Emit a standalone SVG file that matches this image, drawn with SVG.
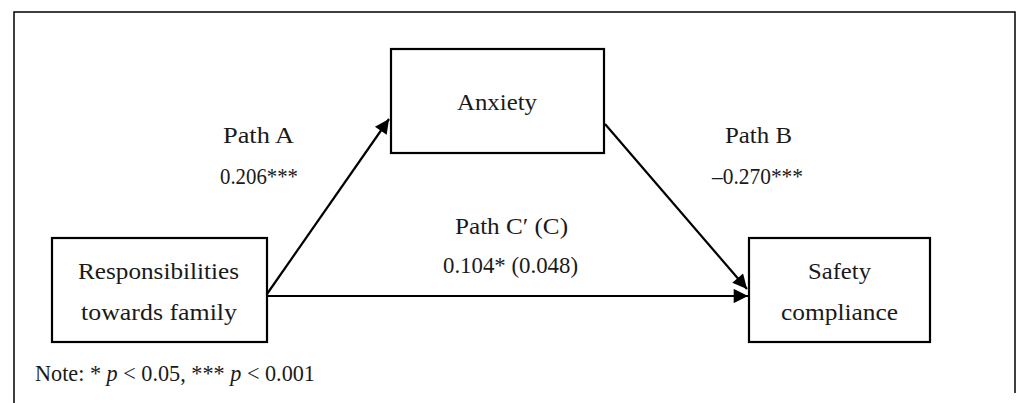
<svg xmlns="http://www.w3.org/2000/svg" width="1018" height="403" viewBox="0 0 1018 403">
<style>
.frame{fill:none;stroke:#000;stroke-width:1.5}
.box{fill:#fff;stroke:#000;stroke-width:2.2}
.t{font-family:"Liberation Serif","Times New Roman",serif;font-size:23px;fill:#1a1a1a;text-anchor:middle}
.edge{fill:none;stroke:#000;stroke-width:2.2}
</style>
<defs>
<marker id="ah" viewBox="0 0 10 10" refX="10" refY="5" markerWidth="7.5" markerHeight="6.5" orient="auto" markerUnits="strokeWidth">
<path d="M0,0 L10,5 L0,10 z" fill="#000"/>
</marker>
</defs>
<rect width="1018" height="403" fill="#fff"/>
<path class="frame" d="M14,403 L14,12 L1015,12 L1015,393"/>
<g id="connectors">
<line class="edge" x1="267" y1="294" x2="389" y2="119" marker-end="url(#ah)"/>
<line class="edge" x1="605" y1="124" x2="747" y2="289" marker-end="url(#ah)"/>
<line class="edge" x1="267" y1="296" x2="748" y2="296" marker-end="url(#ah)"/>
</g>
<g id="anxiety">
<rect class="box" x="391" y="49" width="213" height="104"/>
<text class="t" x="497" y="110" textLength="80" lengthAdjust="spacingAndGlyphs">Anxiety</text>
</g>
<g id="responsibilities">
<rect class="box" x="52" y="238" width="215" height="104"/>
<text class="t" x="158.5" y="279" textLength="161" lengthAdjust="spacingAndGlyphs">Responsibilities</text>
<text class="t" x="159" y="320" textLength="156" lengthAdjust="spacingAndGlyphs">towards family</text>
</g>
<g id="safety">
<rect class="box" x="749" y="238" width="181" height="104"/>
<text class="t" x="839.5" y="279" textLength="63" lengthAdjust="spacingAndGlyphs">Safety</text>
<text class="t" x="839.5" y="320" textLength="117" lengthAdjust="spacingAndGlyphs">compliance</text>
</g>
<g id="labels">
<text class="t" x="258.5" y="143" textLength="71" lengthAdjust="spacingAndGlyphs">Path A</text>
<text class="t" x="259" y="184" textLength="78" lengthAdjust="spacingAndGlyphs">0.206***</text>
<text class="t" x="758.5" y="143" textLength="67" lengthAdjust="spacingAndGlyphs">Path B</text>
<text class="t" x="757.5" y="184" textLength="91" lengthAdjust="spacingAndGlyphs">–0.270***</text>
<text class="t" x="511.5" y="234" textLength="113" lengthAdjust="spacingAndGlyphs">Path C′ (C)</text>
<text class="t" x="510.5" y="273" textLength="135" lengthAdjust="spacingAndGlyphs">0.104* (0.048)</text>
<text class="t" x="35" y="381" style="text-anchor:start" textLength="280" lengthAdjust="spacingAndGlyphs">Note: * <tspan font-style="italic">p</tspan> &lt; 0.05, *** <tspan font-style="italic">p</tspan> &lt; 0.001</text>
</g>
</svg>
